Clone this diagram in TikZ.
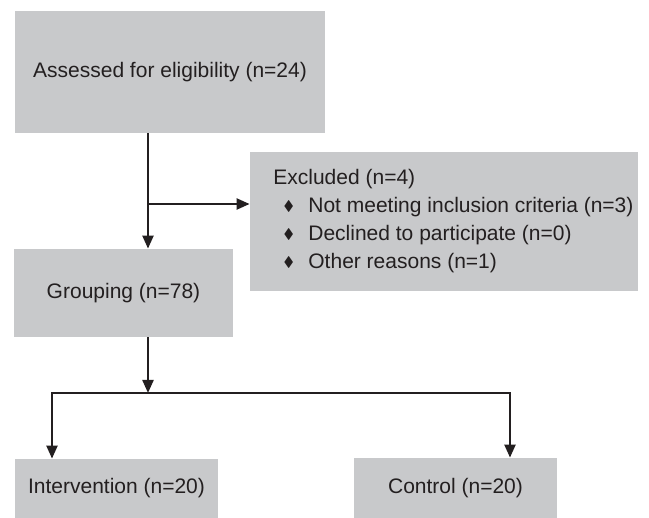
\documentclass[tikz,border=0pt]{standalone}
\usepackage{amssymb}
\usepackage{fontspec}
\setmainfont{Liberation Sans}
\usetikzlibrary{arrows.meta}
\definecolor{boxgray}{RGB}{200,201,203}
\definecolor{ink}{RGB}{35,31,32}

\begin{document}
\begin{tikzpicture}[x=0.5pt, y=-0.5pt,
  >={Triangle[length=6.5pt,width=5.5pt]},
  box/.style={fill=boxgray, inner sep=0pt, text=ink, font=\fontsize{10.5}{12.6}\selectfont},
  txt/.style={inner sep=0pt, text=ink, font=\fontsize{10.5}{12.6}\selectfont, anchor=base west},
  arrow/.style={draw=ink, line width=1.1pt, ->}]
  \useasboundingbox (0,0) rectangle (649,518);
  % Boxes
  \node[box, minimum width=155pt, minimum height=61pt] (assess) at (170,72) {Assessed for eligibility (n=24)};
  \node[box, minimum width=194pt, minimum height=69.5pt] (excl) at (444,221.5) {};
  \node[box, minimum width=109.5pt, minimum height=44pt] (group) at (123.5,293) {Grouping (n=78)};
  \node[box, minimum width=101.5pt, minimum height=29.5pt] (interv) at (116.5,488.5) {Intervention (n=20)};
  \node[box, minimum width=101.5pt, minimum height=30pt] (ctrl) at (455.5,488) {Control (n=20)};
  % Excluded list
  \node[txt] (exclhead) at (273,185) {Excluded (n=4)};
  \foreach \i/\t in {1/Not meeting inclusion criteria (n=3), 2/Declined to participate (n=0), 3/Other reasons (n=1)} {
    \node[txt, font=\scriptsize] (bul\i) at (283,183+27.7*\i) {$\blacklozenge$};
    \node[txt] (item\i) at (308,185+27.7*\i) {\t};
  }
  % Arrows
  \coordinate (split) at (148,204);
  \coordinate (fork) at (148,393);
  \coordinate (forkL) at (52,393);
  \coordinate (forkR) at (510,393);
  \draw[arrow] (split |- assess.south) -- (split |- group.north);
  \draw[arrow] (split) -- (split -| excl.west);
  \draw[arrow] (fork |- group.south) -- (fork);
  \draw[arrow, <->] (forkL |- interv.north) -- (forkL) -- (forkR) -- (forkR |- ctrl.north);
\end{tikzpicture}
\end{document}
